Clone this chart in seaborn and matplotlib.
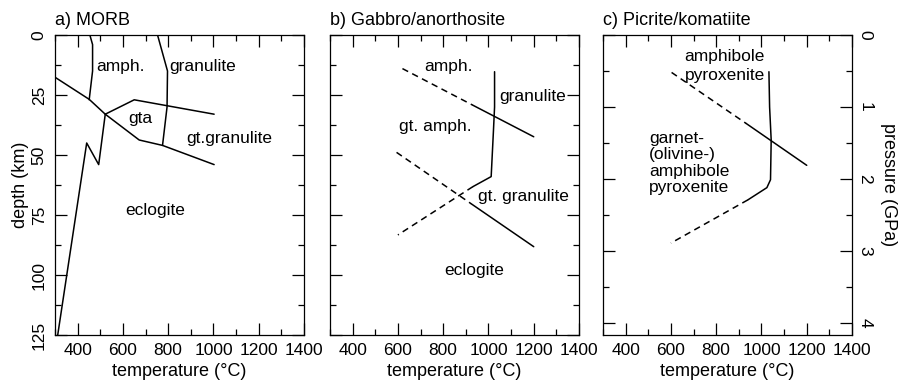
import numpy as np
import pandas as pd
import matplotlib
matplotlib.use("Agg")
import matplotlib.pyplot as plt
from matplotlib.ticker import MultipleLocator, FixedLocator, NullFormatter
import seaborn as sns

sns.set_theme(style="white")
plt.rcParams['font.family'] = ['Liberation Sans', 'DejaVu Sans']
plt.rcParams['font.size'] = 12.5
for k in ("text.color", "axes.labelcolor", "xtick.color", "ytick.color", "axes.edgecolor"):
    plt.rcParams[k] = "black"

# ---------------- data ----------------
# Panel a) MORB  (temperature degC, depth km)
a_amph_T = [454, 466, 466, 451]
a_amph_D = [0, 4, 15, 27]
a_gran_T = [753, 797, 795, 775]
a_gran_D = [0, 15, 30, 46]
a_diag_T = [300, 451, 522, 672, 775, 1003]
a_diag_D = [17.6, 26.8, 33, 43.75, 46, 54]
a_gta_T = [522, 650, 1003]
a_gta_D = [33, 27, 33]
a_ecl_T = [522, 493, 440, 312]
a_ecl_D = [33, 54, 45, 125]

# Panel b) Gabbro/anorthosite
b_up_dash_T = [620, 930]
b_up_dash_D = [14, 29.2]
b_up_sol_T = [930, 1200]
b_up_sol_D = [29.2, 42.4]
b_vert_T = [1027, 1027, 1022, 1012, 931]
b_vert_D = [15.3, 30, 40, 59, 63.2]
b_vdash_T = [931, 600]
b_vdash_D = [63.2, 83.3]
b_lo_dash_T = [594, 925]
b_lo_dash_D = [48.9, 70.4]
b_lo_sol_T = [925, 1200]
b_lo_sol_D = [70.4, 88.2]

# Panel c) Picrite/komatiite (temperature degC, pressure GPa)
c_diag_dash_T = [603, 933]
c_diag_dash_P = [0.52, 1.23]
c_diag_sol_T = [933, 1200]
c_diag_sol_P = [1.23, 1.81]
c_vert_T = [1033, 1036, 1043, 1040, 1024, 940]
c_vert_P = [0.51, 1.0, 1.46, 2.01, 2.12, 2.29]
c_vdash_T = [940, 600]
c_vdash_P = [2.29, 2.89]

x_ticks = [400, 600, 800, 1000, 1200, 1400]
depth_ticks = [0, 25, 50, 75, 100, 125]
pressure_ticks = [0, 1, 2, 3, 4]
km_per_gpa = 30.0

titles = ["a) MORB", "b) Gabbro/anorthosite", "c) Picrite/komatiite"]

# --------------- figure ---------------
fig = plt.figure(figsize=(8.98, 3.84), dpi=100)
W, H = 898.0, 384.0
lefts = [55, 330, 603]
width = 249
top_px, bot_px = 35, 335
axes = [fig.add_axes([l / W, (H - bot_px) / H, width / W, (bot_px - top_px) / H]) for l in lefts]

LW = 1.1
DASH = (0, (4.2, 3.0))
FS = 12.5


def line(ax, T, Y, dashed=False):
    df = pd.DataFrame({"T": T, "Y": Y})
    sns.lineplot(data=df, x="T", y="Y", ax=ax, sort=False, estimator=None,
                 color="black", lw=LW, linestyle=DASH if dashed else "-")


axa, axb, axc = axes
line(axa, a_amph_T, a_amph_D)
line(axa, a_gran_T, a_gran_D)
line(axa, a_diag_T, a_diag_D)
line(axa, a_gta_T, a_gta_D)
line(axa, a_ecl_T, a_ecl_D)

line(axb, b_up_dash_T, b_up_dash_D, True)
line(axb, b_up_sol_T, b_up_sol_D)
line(axb, b_vert_T, b_vert_D)
line(axb, b_vdash_T, b_vdash_D, True)
line(axb, b_lo_dash_T, b_lo_dash_D, True)
line(axb, b_lo_sol_T, b_lo_sol_D)

line(axc, c_diag_dash_T, c_diag_dash_P, True)
line(axc, c_diag_sol_T, c_diag_sol_P)
line(axc, c_vert_T, c_vert_P)
line(axc, c_vdash_T, c_vdash_P, True)

axa.text(591, 13.2, "amph.", ha="center", va="center", fontsize=FS)
axa.text(951, 13.2, "granulite", ha="center", va="center", fontsize=FS)
axa.text(679, 34.7, "gta", ha="center", va="center", fontsize=FS)
axa.text(1069, 43, "gt.granulite", ha="center", va="center", fontsize=FS)
axa.text(742, 73, "eclogite", ha="center", va="center", fontsize=FS)

axb.text(824, 13, "amph.", ha="center", va="center", fontsize=FS)
axb.text(1196, 25.7, "granulite", ha="center", va="center", fontsize=FS)
axb.text(765, 38, "gt. amph.", ha="center", va="center", fontsize=FS)
axb.text(1156, 67.4, "gt. granulite", ha="center", va="center", fontsize=FS)
axb.text(939, 98, "eclogite", ha="center", va="center", fontsize=FS)

axc.text(837, 0.43, "amphibole\npyroxenite", ha="center", va="center", fontsize=FS, linespacing=1.3)
axc.text(504, 1.78, "garnet-\n(olivine-)\namphibole\npyroxenite", ha="left", va="center",
         fontsize=FS, linespacing=1.12)

for i, ax in enumerate(axes):
    ax.set_xlim(300, 1400)
    ax.xaxis.set_major_locator(FixedLocator(x_ticks))
    ax.xaxis.set_minor_locator(MultipleLocator(100))
    ax.set_xlabel("temperature (°C)", fontsize=13, labelpad=3)
    ax.set_ylabel("")
    ax.set_title(titles[i], loc="left", fontsize=13, pad=7, x=0.0)
    for s in ax.spines.values():
        s.set_color("black")
        s.set_linewidth(0.9)
    ax.tick_params(which="both", direction="in", top=True, right=True, left=True, bottom=True,
                   color="black", width=0.9)
    ax.tick_params(which="major", length=8.5, labelsize=FS, pad=6)
    ax.tick_params(which="minor", length=4.5)
    ax.grid(False)

for ax in (axa, axb):
    ax.set_ylim(125, 0)
    ax.yaxis.set_major_locator(FixedLocator(depth_ticks))
    ax.yaxis.set_minor_locator(MultipleLocator(12.5))

axa.tick_params(axis="y", labelrotation=90)
for lab in axa.get_yticklabels():
    lab.set_va("center")
axa.set_ylabel("depth (km)", fontsize=13, labelpad=2)
axb.yaxis.set_major_formatter(NullFormatter())

axc.set_ylim(125 / km_per_gpa, 0)
axc.yaxis.set_major_locator(FixedLocator(pressure_ticks))
axc.yaxis.set_minor_locator(MultipleLocator(0.5))
axc.tick_params(axis="y", labelleft=False, labelright=True, labelrotation=-90, pad=4)
for lab in axc.get_yticklabels():
    lab.set_va("center")
axc.yaxis.set_label_position("right")
axc.set_ylabel("pressure (GPa)", fontsize=13, rotation=-90, va="center", ha="center")
axc.yaxis.set_label_coords((888 - 603) / 249, 0.5)

fig.savefig("out.png", dpi=100)
